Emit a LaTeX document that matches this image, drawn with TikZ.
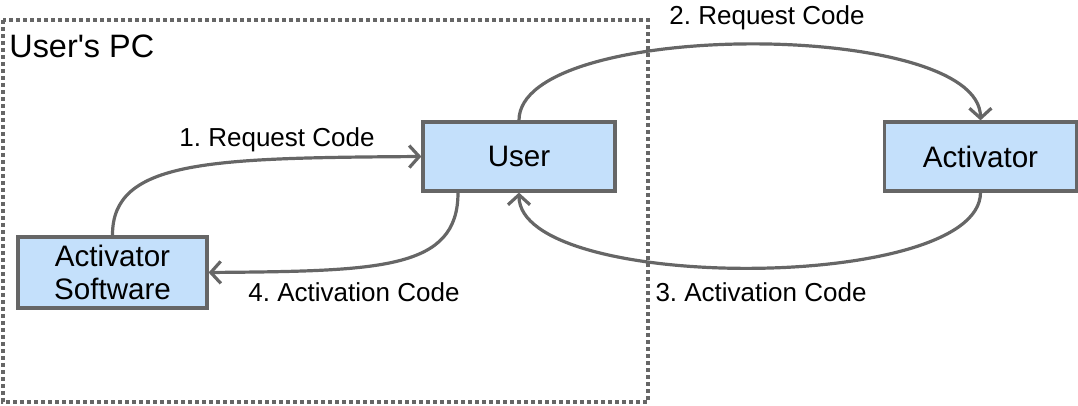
\documentclass[tikz,border=0pt]{standalone}
\usepackage{fontspec}
\setmainfont{Liberation Sans}
\usetikzlibrary{arrows.meta}
\definecolor{boxblue}{RGB}{196,224,251}
\definecolor{linegray}{RGB}{102,102,102}
\frenchspacing
\begin{document}
\begin{tikzpicture}[x=0.5pt,y=-0.5pt,
    box/.style={draw=linegray,fill=boxblue,line width=1.6pt,align=center,inner sep=0pt,
        font=\fontsize{14.8}{16.5}\selectfont},
    flow/.style={draw=linegray,line width=1.6pt,-{Straight Barb[length=5pt,width=11pt]}},
    lbl/.style={anchor=base,inner sep=0pt,font=\fontsize{13}{15}\selectfont}]

    \def\lw{1.6pt}	%width of all lines

    \useasboundingbox (0,0) rectangle (1078,406);

    %USER'S PC (dotted frame)
    \draw[linegray,line width=\lw,dash pattern=on 2pt off 1.5pt] (3,20) rectangle (648,402);
    \node[anchor=base west,inner sep=0pt,font=\fontsize{16.2}{18}\selectfont] (pc) at (9,58) {User\textquotesingle s PC};

    %BOXES
    \node[box,minimum width=96pt,minimum height=34.5pt] (user) at (519,156.5) {User};
    \node[box,minimum width=96pt,minimum height=34.5pt] (activator) at (980.5,156.5) {Activator};
    \node[box,minimum width=94.5pt,minimum height=35.5pt] (software) at (112.5,272.5) {Activator\\Software};

    %ARROWS
    \draw[flow] (software.north) .. controls (112,160) and (210,158) .. (user.west);	%1
    \draw[flow] (user.north) .. controls (519,19) and (980,19) .. (activator.north);	%2
    \draw[flow] (activator.south) .. controls (980,293) and (519,293) .. (user.south);	%3
    \draw[flow] ([xshift=-30.5pt]user.south) .. controls (458,270) and (380,271) .. (software.east);	%4

    %LABELS
    \node[lbl] (req1) at (277,147) {1. Request Code};
    \node[lbl] (req2) at (767,25) {2. Request Code};
    \node[lbl] (act3) at (761,302) {3. Activation Code};
    \node[lbl] (act4) at (354,302) {4. Activation Code};
\end{tikzpicture}
\end{document}
